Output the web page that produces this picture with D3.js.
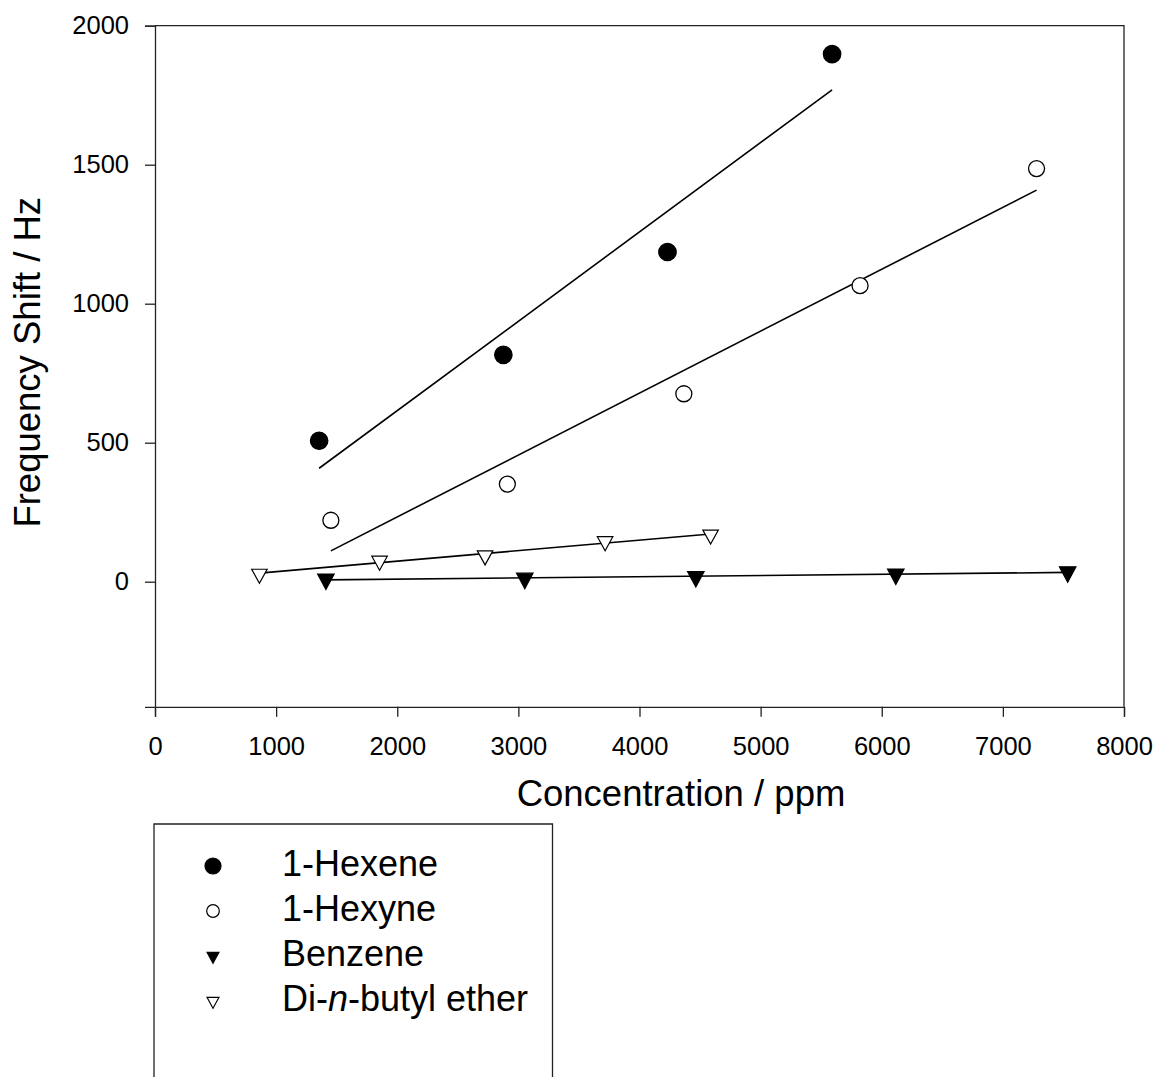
<!DOCTYPE html>
<html>
<head>
<meta charset="utf-8">
<script src="https://cdn.jsdelivr.net/npm/d3@7"></script>
<style>
  body { margin: 0; background: #fff; }
  svg { font-family: "Liberation Sans", Arial, sans-serif; }
</style>
</head>
<body>
<div id="chart"></div>
<script>
// data (x = ppm, y = Hz)
const hexeneX = [1355, 2876, 4231, 5590];
const hexeneY = [507, 816, 1186, 1898];
const hexyneX = [1452, 2909, 4366, 5821, 7278];
const hexyneY = [221, 351, 676, 1065, 1486];
const benzeneX = [1411, 3053, 4465, 6116, 7535];
const benzeneY = [9, 12, 18, 27, 35];
const etherX = [862, 1854, 2725, 3716, 4587];
const etherY = [28, 75, 94, 145, 169];

const xTicks = [0, 1000, 2000, 3000, 4000, 5000, 6000, 7000, 8000];
const yTicks = [0, 500, 1000, 1500, 2000];

const series = [
  { name: "1-Hexene", xs: hexeneX, ys: hexeneY, shape: "circle", fill: "#000" },
  { name: "1-Hexyne", xs: hexyneX, ys: hexyneY, shape: "circle", fill: "#fff" },
  { name: "Benzene", xs: benzeneX, ys: benzeneY, shape: "tri", fill: "#000" },
  { name: "Di-n-butyl ether", xs: etherX, ys: etherY, shape: "tri", fill: "#fff" },
];

//least squares fit, drawn over the range of the data
const fit = (xs, ys) => {
  const mx = d3.mean(xs), my = d3.mean(ys);
  const slope = d3.sum(xs, (x, i) => (x - mx) * (ys[i] - my)) / d3.sum(xs, (x) => (x - mx) ** 2);
  const x0 = d3.min(xs), x1 = d3.max(xs);
  return [[x0, my + slope * (x0 - mx)], [x1, my + slope * (x1 - mx)]];
};

const width = 1156, height = 1077;
const svg = d3.select("#chart").append("svg").attr("width", width).attr("height", height);

const x = d3.scaleLinear().domain([0, 8000]).range([155, 1124]);
const y = d3.scaleLinear().domain([-450, 2000]).range([706.8, 25.7]);

const axisColor = "#222";

//frame (top and right)
svg.append("path")
  .attr("d", `M${x(0)},${y(2000)}H${x(8000)}V${y(-450)}`)
  .attr("fill", "none").attr("stroke", axisColor).attr("stroke-width", 1.3);

const gx = svg.append("g")
  .attr("transform", `translate(0,${y(-450)})`)
  .call(d3.axisBottom(x).tickValues(xTicks).tickSizeOuter(0).tickSize(10).tickPadding(20).tickFormat(d3.format("d")));
const gy = svg.append("g")
  .attr("transform", `translate(${x(0)},0)`)
  .call(d3.axisLeft(y).tickValues(yTicks).tickSizeOuter(0).tickSize(10).tickPadding(16).tickFormat(d3.format("d")));
[gx, gy].forEach((g) => {
  g.selectAll("path, line").attr("stroke", axisColor).attr("stroke-width", 1.3);
  g.selectAll("text").attr("font-size", 25.5).attr("fill", "#000").attr("font-family", null);
});

svg.append("text")
  .attr("x", 681).attr("y", 806)
  .attr("text-anchor", "middle").attr("font-size", 36.5)
  .text("Concentration / ppm");
svg.append("text")
  .attr("transform", `translate(40,${(y(2000) + y(-450)) / 2 - 4}) rotate(-90)`)
  .attr("text-anchor", "middle").attr("font-size", 36.5)
  .text("Frequency Shift / Hz");

//triangle pointing down, centred on its centroid
const triPath = (w, h) => `M${-w / 2},${-h / 3}L${w / 2},${-h / 3}L0,${(2 * h) / 3}Z`;

const line = d3.line().x((d) => x(d[0])).y((d) => y(d[1]));
const plot = svg.append("g");

series.forEach((s) => {
  plot.append("path")
    .attr("d", line(fit(s.xs, s.ys)))
    .attr("fill", "none").attr("stroke", "#000").attr("stroke-width", 1.6);
});

series.forEach((s) => {
  const pts = s.xs.map((v, i) => [v, s.ys[i]]);
  const g = plot.append("g");
  if (s.shape === "circle") {
    g.selectAll("circle").data(pts).enter().append("circle")
      .attr("cx", (d) => x(d[0])).attr("cy", (d) => y(d[1]))
      .attr("r", s.fill === "#000" ? 8.7 : 8)
      .attr("fill", s.fill).attr("stroke", "#000").attr("stroke-width", 1.3);
  } else {
    g.selectAll("path").data(pts).enter().append("path")
      .attr("transform", (d) => `translate(${x(d[0])},${y(d[1])})`)
      .attr("d", s.fill === "#000" ? triPath(16.5, 15.5) : triPath(15.5, 14))
      .attr("fill", s.fill).attr("stroke", "#000").attr("stroke-width", 1.2);
  }
});

//legend
const legend = svg.append("g");
legend.append("path")
  .attr("d", `M154,${height + 5}V824H552.5V${height + 5}`)
  .attr("fill", "none").attr("stroke", axisColor).attr("stroke-width", 1.3);

const rowY = d3.scaleLinear().domain([0, 1]).range([876, 921]);
series.forEach((s, i) => {
  const base = rowY(i);
  const cy = base - 10;
  if (s.shape === "circle") {
    legend.append("circle")
      .attr("cx", 213).attr("cy", cy)
      .attr("r", s.fill === "#000" ? 8 : 6.3)
      .attr("fill", s.fill).attr("stroke", "#000").attr("stroke-width", 1.2);
  } else {
    legend.append("path")
      .attr("transform", `translate(213,${cy})`)
      .attr("d", triPath(12, 11))
      .attr("fill", s.fill).attr("stroke", "#000").attr("stroke-width", 1.1);
  }
  const t = legend.append("text").attr("x", 282).attr("y", base).attr("font-size", 36);
  if (s.name === "Di-n-butyl ether") {
    t.append("tspan").text("Di-");
    t.append("tspan").attr("font-style", "italic").text("n");
    t.append("tspan").text("-butyl ether");
  } else {
    t.text(s.name);
  }
});
</script>
</body>
</html>
